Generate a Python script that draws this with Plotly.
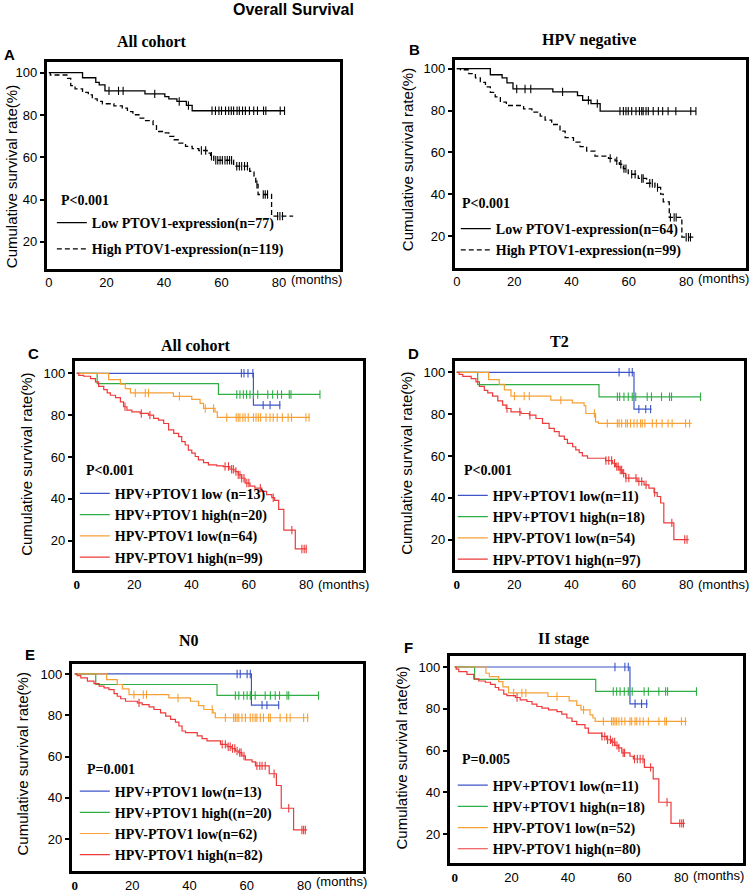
import numpy as np
import plotly.graph_objects as go

W, H = 752, 893

# ---------------- DATA ----------------
# Panel A: All cohort
A_low_t = [0, 11.7, 16.3, 17.5, 19.5, 33.4, 40.3, 41.7, 44.5, 47.8, 49.8]
A_low_s = [100, 97.6, 95.4, 94.2, 91.4, 90.0, 88.7, 87.6, 86.4, 84.5, 82.0]
A_low_c = [20.9, 24.2, 25.8, 36.8, 45.3, 48.5, 56.7, 57.9, 59.1, 60.0, 61.4, 62.5, 63.4, 64.2,
           65.4, 66.2, 67.3, 68.3, 69.7, 71.2, 72.5, 74.6, 75.4, 80.4, 81.9]
A_low_end = 81.9
A_high_t = [0, 0.5, 6.5, 7.6, 9.1, 11.7, 13.7, 15.1, 16.8, 18.6, 22.6, 25.5, 27.3, 29.2, 31.3, 33.6,
            36.2, 37.4, 40.0, 41.7, 43.5, 45.2, 47.5, 49.8, 52.1, 55.0, 56.2, 57.3, 64.2, 69.8,
            71.3, 71.9, 72.7, 77.4]
A_high_s = [100, 98.9, 97.3, 93.9, 92.3, 90.7, 89.5, 87.6, 86.4, 85.3, 84.3, 83.2, 81.6, 80.1, 78.5,
            77.3, 75.4, 72.2, 71.5, 69.9, 68.3, 66.7, 65.2, 64.1, 63.2, 62.0, 60.5, 58.6, 55.8, 53.4,
            51.1, 47.2, 42.4, 32.2]
A_high_c = [53.0, 54.5, 56.5, 58.0, 58.7, 59.5, 60.3, 61.2, 62.0, 62.8, 63.5, 65.3, 66.2, 67.0, 68.0,
            69.0, 72.3, 74.5, 75.2, 76.0, 79.5, 80.3, 81.2]
A_high_end = 84.9

# Panel B: HPV negative
B_low_t = [0, 11.7, 15.8, 17.5, 19.6, 33.5, 42.1, 43.9, 46.8, 50.0]
B_low_s = [100, 97.1, 95.6, 93.2, 90.3, 88.9, 87.1, 84.9, 83.3, 79.7]
B_low_c = [20.9, 23.8, 25.8, 36.9, 45.9, 49.0, 56.9, 58.1, 59.0, 59.8, 61.0, 62.5, 63.7, 64.5, 65.0,
           66.0, 66.8, 68.5, 70.3, 71.8, 73.7, 76.4, 81.6, 83.4]
B_low_end = 83.4
B_high_t = [0, 1.3, 4.2, 6.5, 8.2, 10.0, 11.7, 13.4, 15.2, 17.3, 23.3, 26.2, 29.1, 30.8, 33.1, 36.0,
            37.8, 40.7, 43.0, 45.3, 48.2, 52.9, 55.2, 56.7, 58.1, 59.8, 63.3, 66.2, 69.1, 71.1, 72.0,
            74.1, 78.5]
B_high_s = [100, 99.5, 97.6, 95.6, 93.5, 91.3, 88.7, 86.5, 84.0, 82.4, 80.8, 79.2, 77.3, 75.4, 73.3,
            70.1, 67.0, 64.9, 62.7, 60.6, 58.2, 57.1, 55.9, 54.3, 52.2, 49.5, 47.5, 45.2, 43.2, 40.0,
            36.3, 28.9, 19.4]
B_high_c = [53.5, 55.8, 57.2, 58.3, 59.0, 61.0, 62.2, 64.5, 65.0, 67.3, 68.2, 70.0, 74.5, 75.8, 76.5,
            80.0, 80.8, 81.5]
B_high_end = 82.5

# Panel C: All cohort (4 groups)
C_blue_t = [0, 61.6]
C_blue_s = [100, 84.8]
C_blue_c = [57.4, 58.3, 59.7, 61.4, 65.0, 67.4, 70.8]
C_blue_end = 71.0
C_green_t = [0, 7.1, 49.4]
C_green_s = [100, 95.1, 89.9]
C_green_c = [55.8, 56.9, 58.1, 59.2, 60.4, 61.6, 63.1, 66.6, 68.3, 70.0, 71.4, 74.1, 74.7, 84.8]
C_green_end = 84.8
C_orange_t = [0, 11.1, 15.2, 16.9, 18.7, 33.7, 40.1, 43.0, 44.2, 48.2, 49.0]
C_orange_s = [100, 97.0, 94.8, 92.7, 90.6, 89.0, 87.5, 85.6, 83.2, 81.6, 78.9]
C_orange_c = [20.4, 23.9, 25.0, 35.8, 44.8, 47.7, 52.3, 55.6, 56.3, 56.9, 57.9, 58.7, 59.8, 61.6, 62.5,
              63.3, 64.1, 66.0, 67.4, 68.5, 69.9, 71.7, 73.7, 74.9, 79.9, 81.0]
C_orange_end = 81.3
C_red_t = [0, 0.7, 2.4, 4.8, 6.5, 7.6, 9.4, 10.6, 11.7, 13.5, 15.2, 16.3, 17.5, 19.2, 22.1, 25.0, 26.8,
           28.5, 30.3, 32.0, 33.8, 35.5, 36.6, 37.8, 38.9, 40.1, 41.3, 42.4, 44.2, 45.9, 48.8, 51.1,
           53.4, 55.2, 56.3, 57.5, 58.7, 60.4, 62.1, 64.5, 66.2, 68.0, 69.0, 70.4, 72.2, 76.2]
C_red_s = [100, 99.0, 98.6, 97.5, 95.9, 93.8, 92.2, 90.6, 89.5, 88.4, 86.3, 84.0, 82.4, 81.6, 80.8,
           80.0, 78.4, 77.6, 76.0, 72.9, 71.3, 69.7, 67.3, 65.7, 63.3, 61.8, 60.2, 58.6, 57.3, 56.2,
           55.7, 55.4, 54.1, 53.0, 51.4, 49.8, 47.5, 46.0, 45.1, 43.5, 42.0, 40.5, 39.2, 34.9, 25.0, 16.0]
C_red_c = [16.8, 22.5, 25.5, 51.7, 52.9, 54.0, 54.6, 55.5, 56.3, 56.9, 57.5, 58.3, 59.3, 60.0, 64.0,
           68.5, 75.0, 78.5, 79.3, 80.0]
C_red_end = 80.3

# Panel D: T2
D_blue_t = [0, 61.8]
D_blue_s = [100, 82.4]
D_blue_c = [56.6, 60.1, 61.2, 63.5, 65.9, 67.6]
D_blue_end = 67.9
D_green_t = [0, 7.3, 49.6]
D_green_s = [100, 94.1, 88.3]
D_green_c = [56.0, 56.8, 58.3, 59.8, 61.2, 62.4, 66.4, 67.9, 71.4, 74.2, 74.9, 85.0]
D_green_end = 85.0
D_orange_t = [0, 11.1, 14.8, 16.6, 18.9, 32.8, 40.3, 44.4, 45.0, 48.4, 49.4]
D_orange_s = [100, 96.5, 94.3, 91.6, 88.6, 86.7, 85.4, 84.1, 80.3, 76.3, 75.6]
D_orange_c = [20.1, 23.5, 25.3, 36.3, 48.0, 52.5, 56.0, 56.6, 57.5, 58.9, 59.5, 60.6, 61.8, 62.9,
              64.1, 64.7, 65.6, 68.2, 69.6, 71.6, 73.7, 75.1, 79.8, 81.2]
D_orange_end = 81.9
D_red_t = [0, 0.8, 2.1, 5.0, 6.7, 7.9, 9.6, 10.8, 12.5, 14.3, 16.0, 17.2, 18.9, 22.4, 25.3, 27.6, 29.9,
           32.2, 34.0, 35.7, 37.5, 38.6, 40.4, 41.5, 42.7, 43.8, 45.6, 51.9, 54.3, 55.4, 56.6, 57.7,
           58.9, 62.9, 65.3, 67.0, 68.8, 69.9, 71.1, 72.2, 75.7]
D_red_s = [100, 99.0, 98.1, 97.0, 95.4, 93.3, 91.4, 90.2, 88.6, 86.3, 84.3, 82.7, 81.1, 80.3, 79.5,
           77.9, 75.6, 73.2, 71.6, 69.5, 67.9, 66.0, 64.4, 62.9, 61.6, 60.0, 58.9, 57.8, 56.5, 54.9,
           53.3, 51.7, 49.4, 47.8, 46.2, 44.6, 42.5, 40.6, 37.5, 28.0, 20.0]
D_red_c = [17.5, 22.0, 25.5, 52.0, 53.0, 54.0, 55.0, 55.8, 56.3, 57.0, 57.5, 58.2, 59.0, 60.0, 62.5,
           63.5, 64.5, 66.0, 69.0, 75.0, 79.5, 80.3]
D_red_end = 80.9

# Panel E: N0
E_blue_t = [0, 61.6]
E_blue_s = [100, 84.9]
E_blue_c = [56.6, 57.7, 60.1, 61.2, 65.3, 67.0, 71.1]
E_blue_end = 71.3
E_green_t = [0, 7.3, 49.6]
E_green_s = [100, 94.9, 89.6]
E_green_c = [56.0, 57.2, 58.9, 60.1, 61.2, 62.9, 66.4, 68.2, 69.9, 71.4, 74.0, 74.6, 85.0]
E_green_end = 85.0
E_orange_t = [0, 11.1, 14.8, 16.6, 18.9, 32.8, 40.3, 43.2, 45.0, 48.2, 49.0]
E_orange_s = [100, 97.3, 94.9, 92.8, 90.0, 88.4, 86.8, 84.7, 82.8, 81.2, 78.8]
E_orange_c = [20.6, 23.9, 25.0, 36.0, 47.9, 52.5, 55.4, 56.0, 56.6, 57.2, 58.3, 59.5, 61.2, 62.1,
              62.9, 63.5, 64.7, 65.8, 67.6, 68.2, 71.6, 73.9, 75.1, 79.8, 81.2]
E_orange_end = 81.5
E_red_t = [0, 0.8, 2.1, 4.4, 6.7, 8.5, 10.2, 11.9, 13.7, 14.8, 16.0, 17.7, 21.8, 23.5, 25.9, 27.6,
           29.9, 31.7, 33.4, 35.1, 36.3, 37.4, 38.6, 42.7, 44.4, 46.1, 50.8, 53.1, 54.8, 56.0, 57.2,
           58.3, 59.5, 61.8, 63.0, 67.8, 70.3, 72.0, 76.3]
E_red_s = [100, 99.2, 98.1, 96.5, 95.3, 94.1, 93.3, 92.4, 90.5, 89.2, 88.0, 86.8, 86.0, 85.2, 84.1,
           82.8, 81.2, 79.6, 78.0, 76.7, 74.8, 72.4, 71.6, 70.0, 68.7, 67.6, 65.9, 64.8, 63.9, 62.7,
           61.9, 60.3, 58.4, 57.4, 55.5, 51.7, 46.0, 35.0, 24.5]
E_red_c = [22.4, 51.4, 52.5, 53.5, 54.2, 55.0, 55.8, 56.6, 57.5, 58.0, 59.0, 63.5, 64.5, 65.3, 66.4,
           69.5, 74.6, 79.2, 79.8, 80.4]
E_red_end = 81.0

# Panel F: II stage
F_blue_t = [0, 61.9]
F_blue_s = [100, 82.4]
F_blue_c = [56.6, 60.1, 61.3, 63.7, 66.0, 67.8]
F_blue_end = 68.1
F_green_t = [0, 7.0, 49.8]
F_green_s = [100, 94.1, 88.3]
F_green_c = [56.0, 57.2, 58.4, 59.9, 61.3, 62.7, 66.9, 68.4, 72.1, 74.5, 75.2, 85.4]
F_green_end = 85.4
F_orange_t = [0, 11.0, 12.2, 15.5, 17.0, 19.0, 32.9, 40.4, 43.1, 44.6, 47.8, 48.8, 49.6]
F_orange_s = [100, 97.0, 95.4, 93.0, 90.5, 87.6, 85.9, 83.8, 81.6, 79.5, 77.1, 75.6, 74.0]
F_orange_c = [20.8, 23.7, 25.1, 36.1, 45.5, 52.5, 55.4, 56.0, 56.6, 57.2, 58.0, 59.0, 60.1, 61.9,
              62.5, 63.7, 64.3, 65.4, 66.6, 68.4, 72.1, 74.2, 74.8, 80.1, 81.5]
F_orange_end = 81.9
F_red_t = [0, 0.5, 1.4, 4.3, 6.7, 8.5, 10.8, 12.6, 14.3, 15.5, 17.3, 18.4, 21.4, 23.1, 25.5, 27.3,
           29.0, 30.8, 33.1, 36.1, 37.8, 39.6, 41.4, 43.1, 46.0, 47.2, 51.9, 53.7, 55.4, 56.6, 57.8,
           59.0, 61.9, 63.1, 67.0, 70.1, 72.1, 76.4]
F_red_s = [100, 99.0, 97.8, 96.5, 94.3, 93.3, 92.7, 91.7, 90.2, 89.0, 87.0, 86.3, 85.4, 84.3, 83.5,
           82.2, 81.1, 80.3, 79.5, 78.7, 77.5, 75.6, 74.0, 72.4, 70.8, 68.4, 66.8, 65.2, 64.1, 62.5,
           61.3, 58.9, 57.3, 56.0, 52.0, 46.5, 35.3, 25.2]
F_red_c = [22.0, 52.0, 53.0, 54.0, 55.0, 55.8, 56.5, 57.3, 58.0, 59.5, 60.0, 63.5, 64.5, 65.5, 66.5,
           69.2, 75.0, 79.5, 80.2, 80.8]
F_red_end = 81.3

# Labels
panel_letters = ["A", "B", "C", "D", "E", "F"]
panel_titles = ["All cohort", "HPV negative", "All cohort", "T2", "N0", "II stage"]
p_values = ["P<0.001", "P<0.001", "P<0.001", "P<0.001", "P=0.001", "P=0.005"]
A_names = ["Low PTOV1-expression(n=77)", "High PTOV1-expression(n=119)"]
B_names = ["Low PTOV1-expression(n=64)", "High PTOV1-expression(n=99)"]
C_names = ["HPV+PTOV1 low (n=13)", "HPV+PTOV1 high(n=20)", "HPV-PTOV1 low(n=64)", "HPV-PTOV1 high(n=99)"]
D_names = ["HPV+PTOV1 low(n=11)", "HPV+PTOV1 high(n=18)", "HPV-PTOV1 low(n=54)", "HPV-PTOV1 high(n=97)"]
E_names = ["HPV+PTOV1 low(n=13)", "HPV+PTOV1 high((n=20)", "HPV-PTOV1 low(n=62)", "HPV-PTOV1 high(n=82)"]
F_names = ["HPV+PTOV1 low(n=11)", "HPV+PTOV1 high(n=18)", "HPV-PTOV1 low(n=52)", "HPV-PTOV1 high(n=80)"]
x_ticks = [0, 20, 40, 60, 80]
y_ticks = [20, 40, 60, 80, 100]
y_title = "Cumulative survival rate(%)"

# ---------------- STYLE / LAYOUT ----------------
BLUE, GREEN, ORANGE, RED = "#3d55c8", "#2fae45", "#f7a035", "#ee3a3a"
SANS = "Liberation Sans, Arial, sans-serif"
SERIF = "Liberation Serif, Times New Roman, serif"

# geometry in page pixels: box (left, right, top, bottom), x0 px, px per month, y100 px, px per %
geo = [
    dict(box=(45, 339, 62, 270), x0=47, xs=2.885, y100=73, ys=2.125, ylab=(9, 177), letter=(8, 55),
         title=(150, 42), pval=(57, 201), leg=(50, 208), gap=5, xlab_y=281),
    dict(box=(454, 746, 60, 269), x0=456, xs=2.875, y100=69, ys=2.1, ylab=(406, 160), letter=(414, 50),
         title=(589, 40), pval=(459, 204), leg=(455, 214), gap=0, xlab_y=280),
    dict(box=(73, 362, 363, 573), x0=75, xs=2.875, y100=375, ys=2.1, ylab=(25, 466), letter=(32, 355),
         title=(195, 347), pval=(82, 473), leg=(73, 480), gap=0, xlab_y=587),
    dict(box=(454, 744, 363, 573), x0=456, xs=2.875, y100=374, ys=2.1, ylab=(406, 465), letter=(413, 355),
         title=(559, 343), pval=(461, 473), leg=(452, 482), gap=0, xlab_y=587),
    dict(box=(70, 362, 667, 875), x0=73, xs=2.875, y100=677, ys=2.075, ylab=(21, 767), letter=(28, 657),
         title=(187, 643), pval=(83, 773), leg=(73, 779), gap=0, xlab_y=885),
    dict(box=(449, 743, 659, 867), x0=454, xs=2.8375, y100=670, ys=2.1, ylab=(401, 761), letter=(408, 650),
         title=(563, 642), pval=(459, 763), leg=(452, 773), gap=0, xlab_y=879),
]

curves = [
    [(A_low_t, A_low_s, A_low_c, A_low_end, "black", "solid", A_names[0]),
     (A_high_t, A_high_s, A_high_c, A_high_end, "black", "5px,3px", A_names[1])],
    [(B_low_t, B_low_s, B_low_c, B_low_end, "black", "solid", B_names[0]),
     (B_high_t, B_high_s, B_high_c, B_high_end, "black", "5px,3px", B_names[1])],
    [(C_blue_t, C_blue_s, C_blue_c, C_blue_end, BLUE, "solid", C_names[0]),
     (C_green_t, C_green_s, C_green_c, C_green_end, GREEN, "solid", C_names[1]),
     (C_orange_t, C_orange_s, C_orange_c, C_orange_end, ORANGE, "solid", C_names[2]),
     (C_red_t, C_red_s, C_red_c, C_red_end, RED, "solid", C_names[3])],
    [(D_blue_t, D_blue_s, D_blue_c, D_blue_end, BLUE, "solid", D_names[0]),
     (D_green_t, D_green_s, D_green_c, D_green_end, GREEN, "solid", D_names[1]),
     (D_orange_t, D_orange_s, D_orange_c, D_orange_end, ORANGE, "solid", D_names[2]),
     (D_red_t, D_red_s, D_red_c, D_red_end, RED, "solid", D_names[3])],
    [(E_blue_t, E_blue_s, E_blue_c, E_blue_end, BLUE, "solid", E_names[0]),
     (E_green_t, E_green_s, E_green_c, E_green_end, GREEN, "solid", E_names[1]),
     (E_orange_t, E_orange_s, E_orange_c, E_orange_end, ORANGE, "solid", E_names[2]),
     (E_red_t, E_red_s, E_red_c, E_red_end, RED, "solid", E_names[3])],
    [(F_blue_t, F_blue_s, F_blue_c, F_blue_end, BLUE, "solid", F_names[0]),
     (F_green_t, F_green_s, F_green_c, F_green_end, GREEN, "solid", F_names[1]),
     (F_orange_t, F_orange_s, F_orange_c, F_orange_end, ORANGE, "solid", F_names[2]),
     (F_red_t, F_red_s, F_red_c, F_red_end, RED, "solid", F_names[3])],
]


def px_x(p):
    return p / W


def px_y(p):
    return 1 - p / H


fig = go.Figure()
annotations = []
layout = dict(width=W, height=H, margin=dict(l=0, r=0, t=0, b=0), paper_bgcolor="white",
              plot_bgcolor="white", showlegend=True)

for i, (g, group) in enumerate(zip(geo, curves)):
    n = i + 1
    xa = "x" if n == 1 else f"x{n}"
    ya = "y" if n == 1 else f"y{n}"
    lg = "legend" if n == 1 else f"legend{n}"
    L, R, T, B = g["box"]
    xr = [(L - g["x0"]) / g["xs"], (R - g["x0"]) / g["xs"]]
    yr = [100 - (B - g["y100"]) / g["ys"], 100 + (g["y100"] - T) / g["ys"]]

    for k, (t, s, c, end, col, dash, name) in enumerate(group):
        xs = list(t) + [end]
        ys = list(s) + [s[-1]]
        lw = 1.3 if col == "black" else 1.2
        fig.add_trace(go.Scatter(x=xs, y=ys, mode="lines", line=dict(color=col, width=lw, dash=dash, shape="hv"),
                                 name=name, xaxis=xa, yaxis=ya, legend=lg, legendgroup=f"{lg}_{k}",
                                 hoverinfo="skip"))
        tt = np.array(t)
        ss = np.array(s)
        cy = ss[np.searchsorted(tt, np.array(c), side="right") - 1]
        fig.add_trace(go.Scatter(x=c, y=cy, mode="markers", showlegend=False, xaxis=xa, yaxis=ya,
                                 marker=dict(symbol="line-ns-open", size=6, color=col,
                                             line=dict(width=1.1, color=col)),
                                 hoverinfo="skip"))

    if n <= 2:
        ticktext = [str(v) for v in x_ticks]
    else:
        ticktext = ["<b><span style='font-family:Liberation Serif'>0</span></b>"] + [str(v) for v in x_ticks[1:]]

    axkey = "xaxis" if n == 1 else f"xaxis{n}"
    aykey = "yaxis" if n == 1 else f"yaxis{n}"
    layout[axkey] = dict(domain=[px_x(L), px_x(R)], range=xr, anchor=ya, showgrid=False, zeroline=False,
                         showline=True, mirror=True, linewidth=3, linecolor="black",
                         ticks="", tickvals=x_ticks, ticktext=ticktext,
                         tickfont=dict(family=SANS, size=13, color="black"), fixedrange=True)
    layout[aykey] = dict(domain=[px_y(B), px_y(T)], range=yr, anchor=xa, showgrid=False, zeroline=False,
                         showline=True, mirror=True, linewidth=3, linecolor="black",
                         ticks="outside", ticklen=4, tickwidth=1.5, tickcolor="black",
                         tickvals=y_ticks, tickfont=dict(family=SANS, size=13, color="black"),
                         fixedrange=True)
    layout[lg] = dict(x=px_x(g["leg"][0]), y=px_y(g["leg"][1]), xanchor="left", yanchor="top",
                      bgcolor="rgba(0,0,0,0)", borderwidth=0, itemwidth=30,
                      tracegroupgap=g["gap"], traceorder="grouped",
                      font=dict(family=SERIF, size=14, color="black", weight="bold"))

    # (months) label next to the 80 tick
    annotations.append(dict(text="(months)", xref=xa, x=80, xanchor="left", xshift=10,
                            yref="paper", y=px_y(g["xlab_y"]), yanchor="middle", showarrow=False,
                            font=dict(family=SANS, size=13, color="black")))
    # y axis title
    annotations.append(dict(text=y_title, xref="paper", yref="paper", x=px_x(g["ylab"][0]),
                            y=px_y(g["ylab"][1]), xanchor="center", yanchor="middle", textangle=-90,
                            showarrow=False, font=dict(family=SANS, size=15, color="black")))
    # panel letter
    annotations.append(dict(text=f"<b>{panel_letters[i]}</b>", xref="paper", yref="paper",
                            x=px_x(g["letter"][0]), y=px_y(g["letter"][1]), xanchor="center",
                            yanchor="middle", showarrow=False, font=dict(family=SANS, size=15, color="black")))
    # panel title
    annotations.append(dict(text=f"<b>{panel_titles[i]}</b>", xref="paper", yref="paper",
                            x=px_x(g["title"][0]), y=px_y(g["title"][1]), xanchor="center",
                            yanchor="middle", showarrow=False, font=dict(family=SERIF, size=16, color="black")))
    # p value
    annotations.append(dict(text=f"<b>{p_values[i]}</b>", xref="paper", yref="paper",
                            x=px_x(g["pval"][0]), y=px_y(g["pval"][1]), xanchor="left",
                            yanchor="middle", showarrow=False, font=dict(family=SERIF, size=14, color="black")))

annotations.append(dict(text="<b>Overall Survival</b>", xref="paper", yref="paper", x=px_x(292), y=1,
                        xanchor="center", yanchor="top", yshift=1, showarrow=False,
                        font=dict(family=SANS, size=16, color="black")))
layout["annotations"] = annotations
fig.update_layout(**layout)
# the page body has a default 8px margin; remove it so the figure sits at the page origin
fig.write_html("out.html", config={"displayModeBar": False},
               post_script="document.body.style.margin='0px';")
